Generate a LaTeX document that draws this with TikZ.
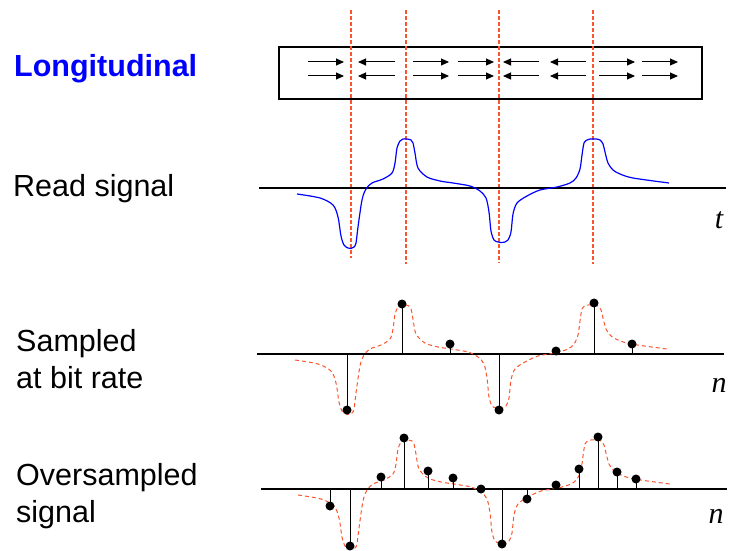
\documentclass[tikz,border=0pt]{standalone}
\usepackage{fontspec}
\setmainfont{Liberation Sans}
\newfontfamily\serifit{Liberation Serif}
\usetikzlibrary{arrows.meta}
\definecolor{dred}{RGB}{250,85,45}
\definecolor{pblue}{RGB}{0,0,255}
\newcommand\drawsig[1]{\draw[#1] plot[smooth,tension=0.5] coordinates {
(297,194) (320,198) (333,205) (338,217) (341,236) (344,245) (348,248) (351,248.5) (354,247) (356,243) (358,227) (362,200) (366,189) (372,183) (383,179) (392,173) (395,163) (397,148) (400,141) (403,139) (407,139) (411,140) (413,143) (415,153) (418,168) (427,177) (440,181) (453,183) (470,186) (480,191) (486,198) (489,212) (491,231) (494,240) (498,242) (501,242.5) (505,242) (508,240) (511,232) (513,214) (517,203) (527,196) (540,190) (557,187) (570,183) (576,178) (580,169) (582,155) (584,143) (587,140) (590,139) (596,139) (600,140) (603,144) (605,152) (608,163) (613,170) (620,174) (633,178) (669,183)};}
\begin{document}
\begin{tikzpicture}[x=1pt,y=-1pt,
  lbl/.style={anchor=base west,inner sep=0pt,font=\fontsize{30.5}{37}\selectfont},
  var/.style={anchor=base,inner sep=0pt,font=\serifit\itshape\fontsize{30}{36}\selectfont},
  mag/.style={line width=1pt,-{Triangle[length=8pt,width=7pt]}},
  guide/.style={dred,line width=1.1pt,dash pattern=on 4pt off 2pt},
  axisline/.style={line width=1.1pt},
  dot/.style={circle,fill=black,inner sep=0pt,minimum size=9pt},
  stem/.style={line width=0.9pt}]
\useasboundingbox (0,0) rectangle (729,551);
% labels
\node[lbl,font=\bfseries\fontsize{30.5}{37}\selectfont,text=pblue] (tLong) at (14,77) {Longitudinal};
\node[lbl] (tRead) at (13,196) {Read signal};
\node[lbl] (tSamp1) at (16,351) {Sampled};
\node[lbl] (tSamp2) at (16,388) {at bit rate};
\node[lbl] (tOver1) at (16,485) {Oversampled};
\node[lbl] (tOver2) at (16,522) {signal};
% medium box
\node[draw,line width=1.3pt,minimum width=423pt,minimum height=52pt,inner sep=0pt] (box) at (490.5,73) {};
% magnetization arrows
\foreach \ya in {62,76}{
  \draw[mag] (308,\ya) -- (344,\ya);
  \draw[mag] (395,\ya) -- (358,\ya);
  \draw[mag] (413,\ya) -- (449,\ya);
  \draw[mag] (458,\ya) -- (494,\ya);
  \draw[mag] (539,\ya) -- (503,\ya);
  \draw[mag] (586,\ya) -- (550,\ya);
  \draw[mag] (599,\ya) -- (635,\ya);
  \draw[mag] (642,\ya) -- (678,\ya);
}
% transition guide lines
\coordinate (g1a) at (351,10); \coordinate (g1b) at (351,258);
\coordinate (g2a) at (406,10); \coordinate (g2b) at (406,264);
\coordinate (g3a) at (499,10); \coordinate (g3b) at (499,263);
\coordinate (g4a) at (593,10); \coordinate (g4b) at (593,264);
\draw[guide] (g1a) -- (g1b);
\draw[guide] (g2a) -- (g2b);
\draw[guide] (g3a) -- (g3b);
\draw[guide] (g4a) -- (g4b);
% read signal
\coordinate (rA) at (259,188); \coordinate (rB) at (726,188);
\draw[axisline] (rA) -- (rB);
\drawsig{pblue,line width=1.2pt}
\node[var] (tt) at (719,228) {t};
% sampled at bit rate
\coordinate (sA) at (257,354); \coordinate (sB) at (724,354);
\draw[axisline] (sA) -- (sB);
\begin{scope}[shift={(-2,166)}]
\drawsig{dred,line width=1pt,dash pattern=on 4pt off 3pt}
\end{scope}
\node[var] (tn1) at (719,392) {n};
\foreach \px/\py [count=\i] in {347/410,402/304,450/344,499/410,556/351,594/303,632/344}{
  \node[dot] (s\i) at (\px,\py) {};
  \draw[stem] (s\i.center) -- (s\i.center |- sA);
}
% oversampled
\coordinate (oA) at (261,489); \coordinate (oB) at (727,489);
\draw[axisline] (oA) -- (oB);
\begin{scope}[shift={(1,301)}]
\drawsig{dred,line width=1pt,dash pattern=on 4pt off 3pt}
\end{scope}
\node[var] (tn2) at (716,523) {n};
\foreach \px/\py [count=\i] in {330/506,350/546,381/477,404/438,428/471,453/478,481/489,502/544,527/499,556/485,579/469,598/437,617/472,636/479}{
  \node[dot] (o\i) at (\px,\py) {};
  \draw[stem] (o\i.center) -- (o\i.center |- oA);
}
\end{tikzpicture}
\end{document}
